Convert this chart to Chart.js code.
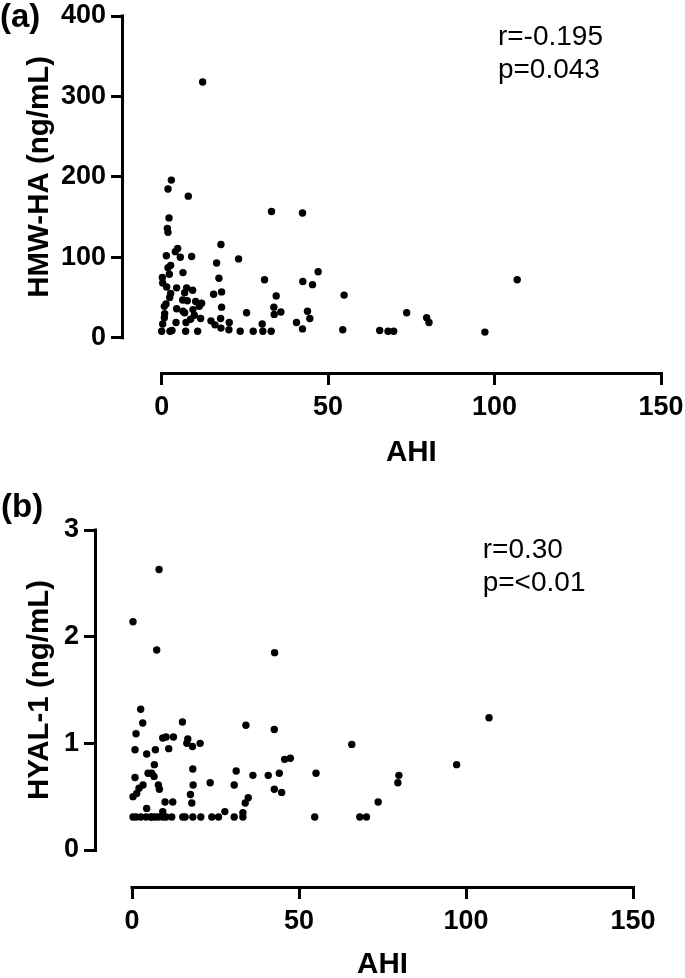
<!DOCTYPE html>
<html>
<head>
<meta charset="utf-8">
<title>AHI correlations</title>
<script src="https://cdn.jsdelivr.net/npm/chart.js@4.4.1/dist/chart.umd.min.js"></script>
<style>
  html, body { margin: 0; padding: 0; background: #fff; }
  .panel { position: absolute; left: 0; }
  #panelA { top: 0; }
  #panelB { top: 478px; }
</style>
</head>
<body>
<div class="panel" id="panelA"><canvas id="chartA" width="685" height="478"></canvas></div>
<div class="panel" id="panelB"><canvas id="chartB" width="685" height="500"></canvas></div>
<script>
// (a) AHI vs HMW-HA
const ahiA = [12.3, 2.9, 1.9, 8.0, 33, 42.3, 2.2, 1.7, 1.9, 17.8, 4.8, 4.1, 1.4, 5.6, 9.0, 23.1, 16.5, 2.7, 1.9, 47,
  6.4, 2.3, 0.2, 17.2, 30.9, 42.4, 0.3, 45.3, 1.5, 4.5, 7.5, 9.3, 6.9, 2.7, 18, 15.6, 54.8, 34.4, 2.4, 6.3,
  7.7, 10.2, 12.0, 1.3, 0.8, 4.5, 18, 9.4, 11.3, 33.7, 6.4, 0.9, 25.5, 33.8, 35.8, 43.8, 6.9, 9.8, 0.8, 8.7,
  11.7, 14.8, 17.7, 44.5, 4.3, 7.3, 20.3, 40.5, 0.3, 16, 30.2, 17.8, 20.2, 42.3, 54.4, 0, 2.5, 3.1, 7.2, 10.8,
  23.6, 27.5, 30.4, 32.9, 65.5, 68, 69.7, 73.6, 79.6, 80.3, 97.1, 106.8];
const hmwHA = [318, 196, 185, 176, 157, 155, 149, 136, 131, 116, 111, 107, 102, 100, 101, 98, 93, 90, 87, 82,
  81, 79, 75, 74, 72, 70, 68, 66, 63, 62, 62, 59, 56, 55, 57, 54, 53, 52, 50, 47,
  46, 45, 43, 42, 39, 36, 38, 35, 39, 38, 33, 30, 31, 29, 32, 33, 31, 28, 25, 23,
  24, 21, 24, 24, 19, 19, 19, 19, 17, 16, 17, 12, 10, 11, 10, 8, 8, 9, 8, 8,
  8, 8, 8, 8, 9, 8, 8, 31, 25, 19, 7, 72];

// (b) AHI vs HYAL-1
const ahiB = [0.3, 2.6, 3.2, 1.2, 0.9, 4.4, 4.8, 0.9, 3.3, 1.4, 0.3, 2.1, 4.4, 0.3, 1.2, 2.6, 4.2, 5.6,
  8.1, 7.4, 42.7, 15.1, 34.1, 42.6, 9.2, 10.2, 12.4, 16.7, 16.4, 18.1, 20.4, 7.0, 11.0, 65.8, 47.4, 45.7,
  6.7, 18.2, 31.2, 36.2, 40.8, 44.1, 55.1, 5.9, 6.6, 23.4, 18.3, 30.6, 7.9, 8.2, 42.6, 44.8, 17.5, 34.8,
  33.9, 9.9, 12.2, 17.9, 73.7, 27.8, 9.2, 33.2,
  5.9, 6.9, 7.9, 9.2, 10.2, 11.9, 15.2, 15.9, 18.2, 20.6, 23.9, 25.9, 30.6, 33.2, 54.7, 68.2, 70.2,
  79.9, 79.6, 97.2, 106.9];
const hyal1 = [2.14, 1.32, 1.19, 1.09, 0.94, 0.90, 0.72, 0.68, 0.61, 0.53, 0.50, 0.58, 0.39, 0.31, 0.31, 0.31, 0.31, 0.31,
  2.63, 1.875, 1.85, 1.20, 1.17, 1.13, 1.05, 1.06, 1.06, 1.04, 1.00, 0.97, 1.00, 0.94, 0.95, 0.99, 0.86, 0.85,
  0.80, 0.76, 0.74, 0.70, 0.70, 0.72, 0.72, 0.72, 0.69, 0.63, 0.61, 0.61, 0.61, 0.57, 0.57, 0.54, 0.52, 0.49,
  0.44, 0.45, 0.45, 0.44, 0.45, 0.36, 0.36, 0.35,
  0.31, 0.31, 0.31, 0.31, 0.31, 0.31, 0.31, 0.31, 0.31, 0.31, 0.31, 0.31, 0.31, 0.31, 0.31, 0.31, 0.31,
  0.70, 0.63, 0.80, 1.24];

const xTicks = [0, 50, 100, 150];
const yTicksA = [0, 100, 200, 300, 400];
const yTicksB = [0, 1, 2, 3];

Chart.defaults.font.family = "'Liberation Sans', Arial, sans-serif";
Chart.defaults.color = '#000';

// Prism style: detached axes, titles, panel letter and r/p text
const prismAxes = {
    id: 'prismAxes',
    afterDraw(chart, args, opts) {
        const { ctx, chartArea } = chart;
        const x = chart.scales.x, y = chart.scales.y;
        const x0 = x.getPixelForValue(opts.xTicks[0]);
        const x1 = x.getPixelForValue(opts.xTicks[opts.xTicks.length - 1]);
        const y0 = y.getPixelForValue(opts.yTicks[0]);
        const y1 = y.getPixelForValue(opts.yTicks[opts.yTicks.length - 1]);
        ctx.save();
        ctx.strokeStyle = '#000';
        ctx.lineWidth = 3;
        ctx.beginPath();
        ctx.moveTo(x0 - 1.5, chartArea.bottom + 1.5);
        ctx.lineTo(x1 + 1.5, chartArea.bottom + 1.5);
        ctx.moveTo(chartArea.left - 1.5, y1 - 1.5);
        ctx.lineTo(chartArea.left - 1.5, y0 + 1.5);
        ctx.stroke();

        ctx.fillStyle = '#000';
        ctx.textBaseline = 'middle';
        ctx.font = "bold 29.5px 'Liberation Sans', Arial, sans-serif";
        ctx.textAlign = 'center';
        ctx.fillText(opts.xTitle, (x0 + x1) / 2, opts.xTitleY);
        ctx.save();
        ctx.translate(opts.yTitleX, (y0 + y1) / 2);
        ctx.rotate(-Math.PI / 2);
        ctx.fillText(opts.yTitle, 0, 0);
        ctx.restore();

        ctx.textAlign = 'left';
        ctx.font = "bold 33px 'Liberation Sans', Arial, sans-serif";
        ctx.fillText(opts.label, opts.labelX, opts.labelY);

        ctx.font = "28px 'Liberation Sans', Arial, sans-serif";
        opts.stats.forEach((line, i) => {
            ctx.fillText(line, x.getPixelForValue(opts.statX), y.getPixelForValue(opts.statY[i]));
        });
        ctx.restore();
    }
};

function makeChart(id, cfg) {
    return new Chart(document.getElementById(id), {
        type: 'scatter',
        data: {
            datasets: [{
                data: cfg.xs.map((v, i) => ({ x: v, y: cfg.ys[i] })),
                backgroundColor: '#000',
                borderWidth: 0,
                pointRadius: 3.7
            }]
        },
        options: {
            responsive: false,
            animation: false,
            layout: { padding: cfg.padding },
            plugins: {
                legend: { display: false },
                tooltip: { enabled: false },
                prismAxes: cfg.axes
            },
            scales: {
                x: {
                    min: cfg.xMin, max: 150,
                    afterBuildTicks: s => { s.ticks = xTicks.map(v => ({ value: v })); },
                    afterFit: s => { s.height = cfg.xHeight; s.paddingLeft = 0; s.paddingRight = 0; },
                    border: { display: false },
                    grid: { drawOnChartArea: false, tickLength: 13, lineWidth: 3, color: '#000' },
                    ticks: { padding: 6, maxRotation: 0, font: { size: 27, weight: 'bold' } }
                },
                y: {
                    min: cfg.yMin, max: cfg.yMax,
                    afterBuildTicks: s => { s.ticks = cfg.yTicks.map(v => ({ value: v })); },
                    afterFit: s => { s.width = cfg.yWidth; s.paddingTop = 0; s.paddingBottom = 0; },
                    border: { display: false },
                    grid: { drawOnChartArea: false, tickLength: 13, lineWidth: 3, color: '#000' },
                    ticks: { padding: 5, font: { size: 27, weight: 'bold' } }
                }
            }
        },
        plugins: [prismAxes]
    });
}

makeChart('chartA', {
    xs: ahiA, ys: hmwHA,
    xMin: -11.32, yMin: -42.6, yMax: 400, yTicks: yTicksA,
    padding: { top: 16, right: 24, bottom: 0, left: 0 },
    yWidth: 124, xHeight: 106,
    axes: {
        xTicks: xTicks, yTicks: yTicksA,
        xTitle: 'AHI', xTitleY: 453,
        yTitle: 'HMW-HA (ng/mL)', yTitleX: 40,
        label: '(a)', labelX: 0, labelY: 18,
        stats: ['r=-0.195', 'p=0.043'], statX: 101, statY: [374, 332]
    }
});

makeChart('chartB', {
    xs: ahiB, ys: hyal1,
    xMin: -10.48, yMin: -0.3375, yMax: 3, yTicks: yTicksB,
    padding: { top: 52, right: 52, bottom: 0, left: 0 },
    yWidth: 97, xHeight: 92,
    axes: {
        xTicks: xTicks, yTicks: yTicksB,
        xTitle: 'AHI', xTitleY: 487,
        yTitle: 'HYAL-1 (ng/mL)', yTitleX: 40,
        label: '(b)', labelX: 1, labelY: 30,
        stats: ['r=0.30', 'p=<0.01'], statX: 105, statY: [2.81, 2.50]
    }
});
</script>
</body>
</html>
